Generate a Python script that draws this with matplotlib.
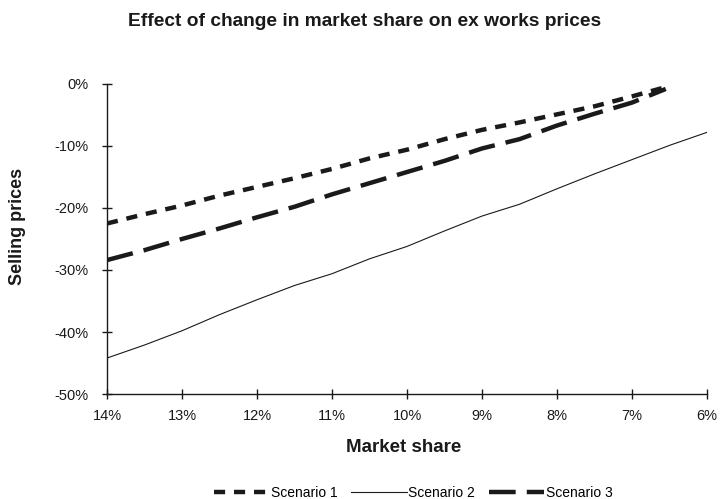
import matplotlib.pyplot as plt
from matplotlib.ticker import FuncFormatter, MultipleLocator

plt.rcParams['font.family'] = ['Liberation Sans', 'DejaVu Sans']

# market share (%) and selling price change (%)
share_main = [14, 13.5, 13, 12.5, 12, 11.5, 11, 10.5, 10, 9.5, 9, 8.5, 8, 7.5, 7, 6.55]
scenario_1 = [-22.5, -21.0, -19.6, -18.0, -16.6, -15.2, -13.7, -12.0, -10.6, -8.9, -7.4, -6.2, -4.9, -3.6, -2.0, -0.5]
scenario_3 = [-28.4, -26.8, -25.0, -23.3, -21.5, -19.8, -17.8, -16.0, -14.2, -12.4, -10.4, -8.9, -6.7, -4.8, -3.0, -0.8]

share_s2 = [14, 13.5, 13, 12.5, 12, 11.5, 11, 10.5, 10, 9.5, 9, 8.5, 8, 7.5, 7, 6.5, 6]
scenario_2 = [-44.2, -42.1, -39.8, -37.2, -34.8, -32.5, -30.6, -28.2, -26.2, -23.7, -21.3, -19.4, -16.9, -14.5, -12.2, -9.9, -7.8]

ink = '#1a1a1a'

fig = plt.figure(figsize=(7.21, 4.99), dpi=100)
ax = fig.add_axes([0.1484, 0.2104, 0.8322, 0.6213])

ax.plot(share_main, scenario_1, color=ink, lw=3.2, dashes=(2.5, 2), label='Scenario 1')
ax.plot(share_s2, scenario_2, color=ink, lw=0.8, label='Scenario 2')
ax.plot(share_main, scenario_3, color=ink, lw=3.2, dashes=(6, 2.5), label='Scenario 3')

ax.set_xlim(14, 6)
ax.set_ylim(-50, 0)
ax.xaxis.set_major_locator(MultipleLocator(1))
ax.yaxis.set_major_locator(MultipleLocator(10))
ax.xaxis.set_major_formatter(FuncFormatter(lambda v, p: f'{v:.0f}%'))
ax.yaxis.set_major_formatter(FuncFormatter(lambda v, p: f'{v:.0f}%'))

for s in ['top', 'right']:
    ax.spines[s].set_visible(False)
for s in ['left', 'bottom']:
    ax.spines[s].set_color(ink)
    ax.spines[s].set_linewidth(1)
ax.tick_params(direction='inout', length=7, width=1, color=ink, labelsize=10.5, labelcolor=ink)
ax.tick_params(axis='x', pad=7)
ax.tick_params(axis='y', pad=9.5)

fig.text(365 / 721, 1 - 22 / 499, 'Effect of change in market share on ex works prices',
         ha='center', va='center', fontsize=13.8, fontweight='bold', color=ink)
fig.text(404 / 721, 1 - 447 / 499, 'Market share',
         ha='center', va='center', fontsize=13.5, fontweight='bold', color=ink)
fig.text(18 / 721, 1 - 226 / 499, 'Selling prices', rotation=90,
         ha='center', va='center', fontsize=13, fontweight='bold', color=ink)

fig.legend(loc='center', bbox_to_anchor=(413 / 721, 1 - 493 / 499), ncol=3, frameon=False,
           fontsize=10, handlelength=4, columnspacing=1.0, handletextpad=0.1,
           borderpad=0, borderaxespad=0)

fig.savefig('out.png', dpi=100)
